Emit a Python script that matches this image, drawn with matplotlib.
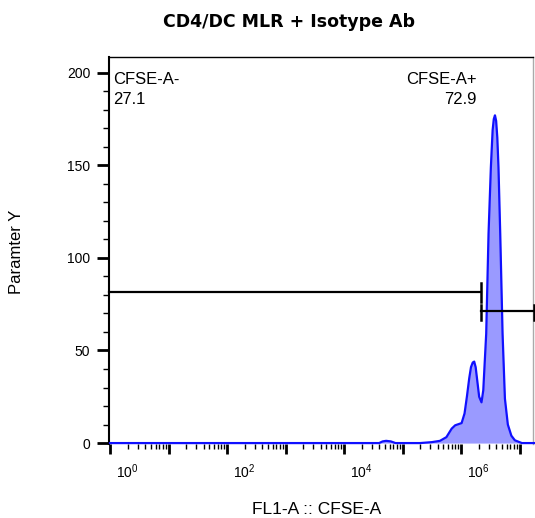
import numpy as np
import matplotlib
matplotlib.use("Agg")
import matplotlib.pyplot as plt
from matplotlib.transforms import ScaledTranslation
from matplotlib.ticker import FixedLocator, NullFormatter, MultipleLocator

plt.rcParams['font.family'] = ['Liberation Sans', 'DejaVu Sans']
plt.rcParams['mathtext.fontset'] = 'custom'
plt.rcParams['mathtext.rm'] = 'Liberation Sans'
plt.rcParams['mathtext.it'] = 'Liberation Sans'

# ---- data ----
title = "CD4/DC MLR + Isotype Ab"
x_label = "FL1-A :: CFSE-A"
y_label = "Paramter Y"
log_fl = [0.0, 4.60, 4.66, 4.72, 4.80, 4.88, 5.30, 5.50, 5.64, 5.75, 5.84, 5.90,
          6.01, 6.06, 6.10, 6.14, 6.17, 6.20, 6.225, 6.25, 6.28, 6.31, 6.35, 6.38,
          6.43, 6.47, 6.51, 6.54, 6.56, 6.58, 6.60, 6.62, 6.64, 6.67, 6.71, 6.75,
          6.80, 6.86, 6.92, 7.04, 7.25]
counts = [0, 0, 0.9, 1.2, 0.9, 0, 0, 0.5, 1.2, 3.2, 7.8, 9.6,
          10.8, 16, 25, 35, 41, 43.5, 44, 41, 33, 25, 22, 28.5,
          59, 113, 149, 169, 175, 177, 174, 165, 149, 113, 59, 24,
          10, 4, 1.5, 0, 0]
gate_neg = {"name": "CFSE-A-", "pct": "27.1", "lo": -0.02, "hi": 6.34, "y": 81.6}
gate_pos = {"name": "CFSE-A+", "pct": "72.9", "lo": 6.34, "hi": 7.24, "y": 71.3}
major_exp = [0, 1, 2, 3, 4, 5, 6, 7]
label_exp = [0, 2, 4, 6]

fig = plt.figure(figsize=(5.35, 5.18), dpi=100)
ax = fig.add_axes([109/535, 1-444/518, 424/535, 387/518])

x = 10.0 ** np.array(log_fl)
y = np.array(counts)
ax.fill_between(x, 0, y, color='#9a9aff', lw=0, zorder=2)
ax.plot(x, y, color='#1010ff', lw=1.6, zorder=3, clip_on=False, solid_joinstyle='round')

ax.set_xscale('log')
ax.set_xlim(10**-0.017, 10**7.23)
ax.set_ylim(-0.5, 208.5)

# gates
capc = 'black'
for g in [gate_neg, gate_pos]:
    xs = [10**g["lo"], 10**g["hi"]]
    ax.plot(xs, [g["y"], g["y"]], color=capc, lw=1.6, zorder=4, clip_on=False)
for xv, lo, hi in [(6.34, 76.1, 86.4), (6.34, 66.2, 74.3), (7.24, 66.2, 74.3)]:
    ax.plot([10**xv, 10**xv], [lo, hi], color=capc, lw=1.8, zorder=4, clip_on=False)

# annotations
fs_ann = 12
ax.text(0.0094, 0.941, gate_neg["name"], transform=ax.transAxes, ha='left', va='center', fontsize=fs_ann)
ax.text(0.0094, 0.889, gate_neg["pct"], transform=ax.transAxes, ha='left', va='center', fontsize=fs_ann)
ax.text(0.868, 0.941, gate_pos["name"], transform=ax.transAxes, ha='right', va='center', fontsize=fs_ann)
ax.text(0.868, 0.889, gate_pos["pct"], transform=ax.transAxes, ha='right', va='center', fontsize=fs_ann)

# y axis
ax.yaxis.set_major_locator(FixedLocator([0, 50, 100, 150, 200]))
ax.yaxis.set_minor_locator(MultipleLocator(10))
ax.tick_params(axis='y', which='major', length=8.5, width=2, labelsize=10, pad=5)
ax.tick_params(axis='y', which='minor', length=4.3, width=1)

# x axis
ax.xaxis.set_major_locator(FixedLocator([10.0**e for e in major_exp]))
minors = [m * 10.0**e for e in range(0, 7) for m in range(2, 10)]
ax.xaxis.set_minor_locator(FixedLocator(minors))
ax.xaxis.set_minor_formatter(NullFormatter())
ax.set_xticklabels([(r'$10^{%d}$' % e) if e in label_exp else '' for e in major_exp])
ax.tick_params(axis='x', which='major', length=7, width=2, labelsize=10, pad=6)
ax.tick_params(axis='x', which='minor', length=3.6, width=1)
off = ScaledTranslation(0.17, 0, fig.dpi_scale_trans)
for lab in ax.get_xticklabels():
    lab.set_transform(lab.get_transform() + off)

for s in ['top', 'left']:
    ax.spines[s].set_color('black')
ax.spines['top'].set_linewidth(1.0)
ax.spines['left'].set_linewidth(1.5)
ax.spines['right'].set_color('#aaaaaa')
ax.spines['right'].set_linewidth(1.0)
ax.spines['bottom'].set_visible(False)

fig.text(289/535, 1-22/518, title, ha='center', va='center', fontsize=12.5,
         fontweight='bold', family='DejaVu Sans')
fig.text(317/535, 1-510/518, x_label, ha='center', va='center', fontsize=12.5)
fig.text(17/535, 1-252/518, y_label, ha='center', va='center', rotation=90, fontsize=12)

fig.savefig("out.png", dpi=100)
